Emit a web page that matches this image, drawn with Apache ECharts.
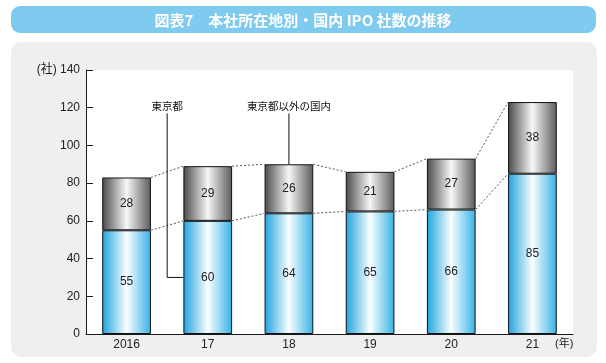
<!DOCTYPE html>
<html><head><meta charset="utf-8">
<script src="https://cdn.jsdelivr.net/npm/echarts@6/dist/echarts.min.js"></script>
<style>html,body{margin:0;padding:0;background:#fff}#c{width:606px;height:363px}</style>
</head><body><div id="c"></div>
<script>
const titleText = '図表7　本社所在地別・国内 IPO 社数の推移';
const categories = ['2016', '17', '18', '19', '20', '21'];
const tokyo = [55, 60, 64, 65, 66, 85];
const otherDomestic = [28, 29, 26, 21, 27, 38];
const seriesNames = ['東京都', '東京都以外の国内'];
const yMin = 0, yMax = 140, yInterval = 20;
const yUnit = '(社)';
const xUnit = '(年)';
// callout: [label, anchor category, anchor value, top value]
const calloutTokyo = ['東京都', 1, 30, 117];
const calloutOther = ['東京都以外の国内', 2, 90, 117];

const totals = tokyo.map((v, i) => v + otherDomestic[i]);
const connectorData = [];
for (let i = 0; i < categories.length - 1; i++) {
  connectorData.push([i, tokyo[i], tokyo[i + 1]]);
  connectorData.push([i, totals[i], totals[i + 1]]);
}
const FONT = "'Liberation Sans', 'Noto Sans CJK JP', sans-serif";
const BAR_FRAC = 0.6;

const blueGrad = {type: 'linear', x: 0, y: 0, x2: 1, y2: 0, colorStops: [
  {offset: 0, color: '#1fa3de'}, {offset: 0.5, color: '#fbfeff'}, {offset: 1, color: '#36b2e6'}]};
const greyGrad = {type: 'linear', x: 0, y: 0, x2: 1, y2: 0, colorStops: [
  {offset: 0, color: '#4a4a4a'}, {offset: 0.5, color: '#f7f7f7'}, {offset: 1, color: '#5a5a5a'}]};

const chart = echarts.init(document.getElementById('c'), null, {renderer: 'canvas'});
chart.setOption({
  animation: false,
  textStyle: {fontFamily: FONT},
  graphic: [
    {type: 'rect', z: -10, shape: {x: 11, y: 6, width: 585, height: 27, r: 9}, style: {fill: '#7fcbef'}},
    {type: 'text', z: -9, style: {x: 303, y: 20, text: titleText, fill: '#ffffff', font: "bold 15px 'Noto Sans CJK JP', sans-serif", align: 'center', verticalAlign: 'middle'}},
    {type: 'rect', z: -10, shape: {x: 11, y: 42, width: 586, height: 315, r: 10}, style: {fill: '#efefef'}}
  ],
  grid: {left: 86, right: 33, top: 70, bottom: 29, show: true, backgroundColor: '#ffffff', borderWidth: 0},
  xAxis: {
    type: 'category', data: categories,
    axisLine: {lineStyle: {color: '#1a1a1a', width: 1}},
    axisTick: {show: false},
    axisLabel: {color: '#222', fontSize: 12, margin: 5, fontFamily: FONT},
    name: xUnit, nameLocation: 'end', nameGap: -18,
    nameTextStyle: {color: '#222', fontSize: 11, verticalAlign: 'top', align: 'left', padding: [4, 0, 0, 0], fontFamily: FONT}
  },
  yAxis: {
    type: 'value', min: yMin, max: yMax, interval: yInterval,
    axisLine: {show: true, lineStyle: {color: '#1a1a1a', width: 1}},
    axisTick: {show: true, inside: true, length: 7, lineStyle: {color: '#1a1a1a'}},
    splitLine: {show: false},
    axisLabel: {color: '#222', fontSize: 12, margin: 6, fontFamily: FONT,
      formatter: v => v === yMax ? yUnit + ' ' + v : String(v)}
  },
  series: [
    {name: seriesNames[0], type: 'bar', stack: 'a', data: tokyo, barWidth: (BAR_FRAC * 100) + '%',
      itemStyle: {color: blueGrad, borderColor: '#111', borderWidth: 1},
      label: {show: true, position: 'inside', color: '#222', fontSize: 12, fontFamily: FONT}},
    {name: seriesNames[1], type: 'bar', stack: 'a', data: otherDomestic, barWidth: (BAR_FRAC * 100) + '%',
      itemStyle: {color: greyGrad, borderColor: '#111', borderWidth: 1},
      label: {show: true, position: 'inside', color: '#222', fontSize: 12, fontFamily: FONT}},
    {type: 'custom', data: connectorData, encode: {x: 0, y: [1, 2]}, z: 5, silent: true,
      renderItem: (params, api) => {
        const i = api.value(0);
        const p1 = api.coord([i, api.value(1)]);
        const p2 = api.coord([i + 1, api.value(2)]);
        const hw = api.size([1, 0])[0] * BAR_FRAC / 2;
        return {type: 'line', shape: {x1: p1[0] + hw, y1: p1[1], x2: p2[0] - hw, y2: p2[1]},
          style: {stroke: '#555', lineWidth: 1, lineDash: [2, 2]}};
      }},
    {type: 'custom', data: [calloutTokyo.slice(1)], encode: {x: 0, y: [1, 2]}, z: 6, silent: true,
      renderItem: (params, api) => {
        const c = api.value(0);
        const pa = api.coord([c, api.value(1)]);
        const pt = api.coord([c, api.value(2)]);
        const bw = api.size([1, 0])[0];
        const xv = pa[0] - bw / 2;
        const xe = pa[0] - bw * BAR_FRAC / 2;
        return {type: 'group', children: [
          {type: 'polyline', shape: {points: [[xv, pt[1]], [xv, pa[1]], [xe, pa[1]]]}, style: {stroke: '#111', lineWidth: 1, fill: null}},
          {type: 'text', style: {x: xv, y: pt[1] - 2, text: calloutTokyo[0], fill: '#111', font: "10.5px 'Noto Sans CJK JP', sans-serif", align: 'center', verticalAlign: 'bottom'}}
        ]};
      }},
    {type: 'custom', data: [calloutOther.slice(1)], encode: {x: 0, y: [1, 2]}, z: 6, silent: true,
      renderItem: (params, api) => {
        const c = api.value(0);
        const pa = api.coord([c, api.value(1)]);
        const pt = api.coord([c, api.value(2)]);
        return {type: 'group', children: [
          {type: 'line', shape: {x1: pa[0], y1: pt[1], x2: pa[0], y2: pa[1]}, style: {stroke: '#111', lineWidth: 1}},
          {type: 'text', style: {x: pa[0], y: pt[1] - 2, text: calloutOther[0], fill: '#111', font: "10.5px 'Noto Sans CJK JP', sans-serif", align: 'center', verticalAlign: 'bottom'}}
        ]};
      }}
  ]
});
</script></body></html>
